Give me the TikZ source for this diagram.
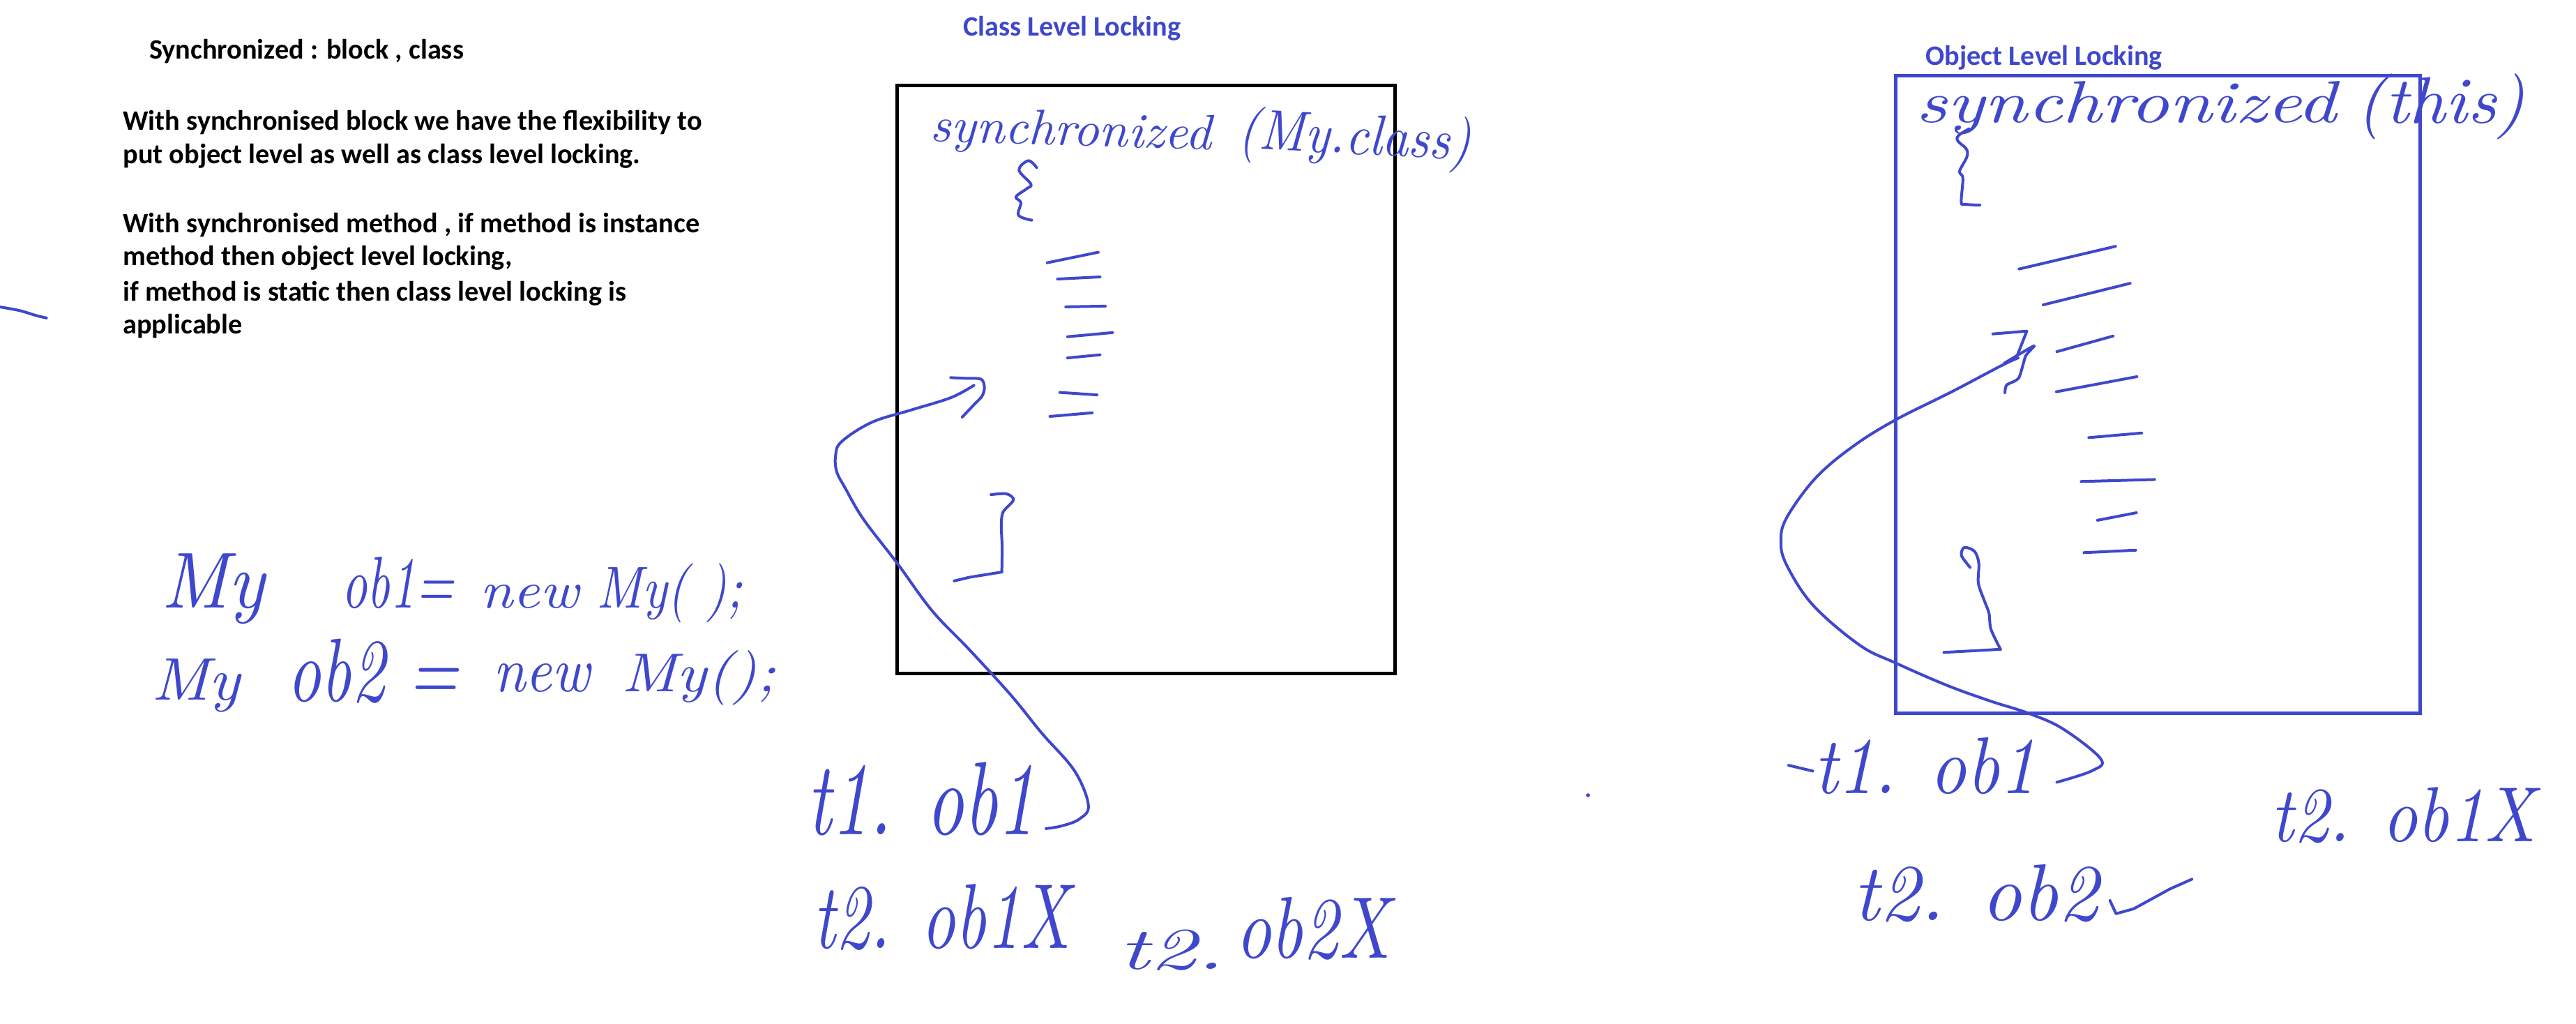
\documentclass[tikz,border=0pt]{standalone}
\usepackage{fontspec}
\usepackage{graphicx}
\newfontfamily\calfont{Carlito}
\definecolor{pblue}{RGB}{63,72,204}
\newcommand\hw[3]{\resizebox{#1pt}{#2pt}{\itshape #3}}
\tikzset{
  hand/.style={pblue, line width=1.7pt, line cap=round, line join=round},
  hwtext/.style={text=pblue, inner sep=0pt, anchor=base west},
  bodytext/.style={font=\calfont\bfseries\fontsize{17.1}{20}\selectfont, inner sep=0pt, anchor=base west},
  titletext/.style={bodytext, text=pblue},
  boxline/.style={line width=2.1pt}
}
\begin{document}
\begin{tikzpicture}[x=1pt,y=-1pt]
\fill[white] (0,0) rectangle (1568,623.1);
\useasboundingbox (0,0) rectangle (1568,623.1);

% ---- printed text ----
\node[bodytext] (t0) at (90.7,36) {Synchronized : block , class};
\node[bodytext] (t1) at (74.7,79) {With synchronised block we have the flexibility to};
\node[bodytext] (t2) at (74.7,99.5) {put object level as well as class level locking.};
\node[bodytext] (t3) at (74.7,141.5) {With synchronised method , if method is instance};
\node[bodytext] (t4) at (74.7,161.5) {method then object level locking,};
\node[bodytext] (t5) at (74.7,183) {if method is static then class level locking is};
\node[bodytext] (t6) at (74.7,203) {applicable};

\node[titletext] (classtitle) at (586,22) {Class Level Locking};
\node[titletext] (objtitle) at (1172,39.5) {Object Level Locking};

% ---- boxes ----
\draw[boxline, black] (546,52) rectangle (849,410);
\draw[boxline, pblue] (1154,46) rectangle (1473,434);

% ---- class level block ----
\node[hwtext, rotate=-1.7] (sync1) at (566,86) {\hw{171}{21}{synchronized}};
\node[hwtext, rotate=-3] (par1) at (753,90) {\hw{142}{26}{(My.class)}};
\draw[hand] plot[smooth, tension=0.6] coordinates {(631,102) (626,97.8) (620.3,103.5) (627.5,112) (625,114.8) (618.4,119.8) (621.4,123.3) (620,131) (628,134)};
\draw[hand] (637.4,159.9) -- (668.5,153.5);
\draw[hand] (643.7,169.8) -- (669.6,168.5);
\draw[hand] (648.7,186.7) -- (672.8,186.3);
\draw[hand] (649.8,204.9) -- (677.2,202.4);
\draw[hand] (649.8,217.8) -- (669.6,215.9);
\draw[hand] (645.1,238.8) -- (667.8,240.3);
\draw[hand] (639.1,253.4) -- (664.8,251.2);
\draw[hand] plot[smooth, tension=0.5] coordinates {(603.2,301) (612.6,300.5) (616.9,304.2) (610.5,311.7) (609.5,320.3) (610,333) (609.8,348.1)};
\draw[hand] (609.8,348.1) -- (590,351.3) -- (580.8,353.5);
% arrow
\coordinate (a1tip) at (592.8,234.5);
\coordinate (a1end) at (636.7,504.2);
\draw[hand] plot[smooth, tension=0.6] coordinates {(592.8,234.5) (578.7,242) (554.6,249.5) (530.6,257) (512.2,268.8) (508.6,277.4) (509.3,287) (514.3,296.7) (525.6,316) (546.1,342.7) (567.4,371.7) (590,395.3) (615.4,423.1) (634,446) (654,469) (662.5,490) (657,498.4) (646.2,502.6) (636.7,504.2)};
\draw[hand] plot[smooth, tension=0.5] coordinates {(578.7,229.8) (587.2,230.2) (597.1,230.7) (599.2,235.6) (597.8,241) (592.8,246.3) (585.7,253.8)};

% ---- object level block ----
\node[hwtext] (sync2) at (1166,74.4) {\hw{256}{25}{synchronized}};
\node[hwtext] (par2) at (1434,75) {\hw{103}{30}{(this)}};
\draw[hand] plot[smooth, tension=0.6] coordinates {(1198.6,78.4) (1192.2,82.4) (1191.7,85.8) (1196.8,90.5) (1197.3,95.2) (1193.4,102.6) (1192.9,105.3) (1194.8,108.7) (1193.8,122.8) (1196,124.3) (1205.1,124.8)};
\draw[hand] (1229,163.7) -- (1287.7,149.9);
\draw[hand] (1243.7,185.5) -- (1296.6,172.4);
\draw[hand] (1252,214) -- (1286.2,204.5);
\draw[hand] (1251.7,238.4) -- (1300.7,229.2);
\draw[hand] (1271.4,266.3) -- (1303.6,263.5);
\draw[hand] (1266.8,293) -- (1311.5,291.8);
\draw[hand] (1276.7,316.6) -- (1300.4,312);
\draw[hand] (1268.5,336.3) -- (1300,334.8);
\draw[hand] plot[smooth, tension=0.5] coordinates {(1199.2,345.3) (1193.9,338) (1195.7,333.1) (1201.9,335.5) (1204.5,342.8) (1204.2,354.9) (1208,365.9) (1210.7,373.2) (1211.9,383) (1217.7,395.1)};
\draw[hand] (1217.7,395.1) -- (1183.2,397);
% arrow
\coordinate (a2tip) at (1228.4,217.8);
\coordinate (a2end) at (1252,476);
\draw[hand] plot[smooth, tension=0.6] coordinates {(1228.4,217.8) (1218,222.6) (1188,238.4) (1154,255.4) (1128.5,271.2) (1105.4,290.6) (1087.6,314.9) (1084,329.5) (1087.6,344) (1103.6,368.3) (1132,392.6) (1154,403.5) (1185,417) (1211.5,426.6) (1234.6,434) (1255.8,443.6) (1278.7,461.8) (1273.4,469) (1252,476)};
\draw[hand] (1213,203.2) -- (1233.7,201.5) -- (1228,216);
\draw[hand] plot[smooth, tension=0.4] coordinates {(1220,221) (1238,210.5) (1233,216.6) (1228.8,230) (1221.4,234.3) (1220.4,239)};

% ---- object declarations ----
\node[hwtext] (my1) at (98,370) {\hw{63}{33}{My}};
\node[hwtext] (ob1) at (208,370) {\hw{68}{31}{ob1=}};
\node[hwtext] (new1) at (292,370) {\hw{60}{14}{new}};
\node[hwtext] (cons1) at (363,370) {\hw{89}{27}{My( );}};
\node[hwtext] (my2) at (92,426) {\hw{54}{25}{My}};
\node[hwtext] (ob2) at (175,427) {\hw{104}{38}{ob2 =}};
\node[hwtext] (new2) at (300,421) {\hw{59}{17}{new}};
\node[hwtext] (cons2) at (378,421) {\hw{94}{25}{My();}};

% ---- thread calls ----
\node[hwtext] (c1) at (491,508) {\hw{139}{44}{t1. ob1}};
\node[hwtext] (c2) at (495,577) {\hw{156}{39}{t2. ob1X}};
\node[hwtext] (c3a) at (681,590) {\hw{64}{24}{t2.}};
\node[hwtext] (c3b) at (752,583) {\hw{94}{37}{ob2X}};
\node[hwtext] (o1) at (1104,483) {\hw{135}{34}{t1. ob1}};
\node[hwtext] (o2) at (1128,560) {\hw{149}{34}{t2. ob2}};
\node[hwtext] (o3) at (1382,512) {\hw{161}{33}{t2. ob1X}};
\draw[hand] (1088.7,465.7) -- (1103.4,469.2);
\draw[hand] (1284.3,548) -- (1288,556) -- (1298.8,553) -- (1320.7,541) -- (1334.2,535);

% ---- stray marks ----
\draw[hand] plot[smooth] coordinates {(0,186.8) (12,189) (22,192) (28.3,193.5)};
\fill[pblue] (966.6,483.9) circle (1.2);
\end{tikzpicture}
\end{document}
